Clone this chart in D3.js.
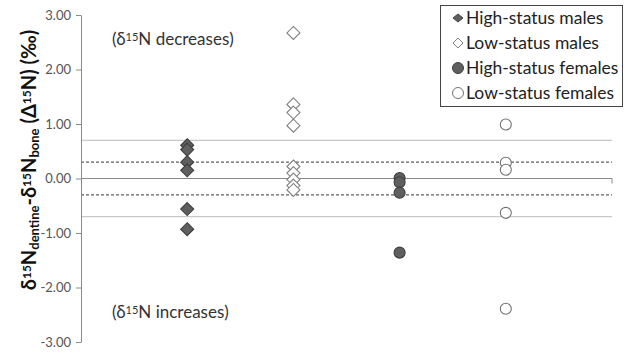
<!DOCTYPE html>
<html>
<head>
<meta charset="utf-8">
<script src="https://cdn.jsdelivr.net/npm/d3@7"></script>
<style>
  body { margin: 0; background: #fff; }
  text { font-family: Lato, "Open Sans", sans-serif; }
</style>
</head>
<body>
<div id="chart"></div>
<script>
// categories on the x axis (position 1..4)
const groups = ['High-status males', 'Low-status males', 'High-status females', 'Low-status females']
const highMales = [0.61, 0.53, 0.30, 0.15, -0.56, -0.93]
const lowMales = [2.67, 1.36, 1.21, 0.97, 0.22, 0.10, -0.02, -0.13, -0.21]
const highFemales = [0.01, -0.07, -0.26, -1.36]
const lowFemales = [0.99, 0.29, 0.16, -0.63, -2.39]
const yTicks = [3, 2, 1, 0, -1, -2, -3]
const bandLines = [0.7, -0.7]
const dashLines = [0.3, -0.3]

const series = [
  { name: groups[0], x: 1, values: highMales, shape: 'diamond', fill: '#5f5f5f', stroke: '#3f3f3f' },
  { name: groups[1], x: 2, values: lowMales, shape: 'diamond', fill: '#fff', stroke: '#808080' },
  { name: groups[2], x: 3, values: highFemales, shape: 'circle', fill: '#5f5f5f', stroke: '#3f3f3f' },
  { name: groups[3], x: 4, values: lowFemales, shape: 'circle', fill: '#fff', stroke: '#707070' }
]

const W = 629, H = 353
const svg = d3.select('#chart').append('svg')
  .attr('width', W).attr('height', H)

const xScale = d3.scaleLinear().domain([0, 5]).range([81, 612])
const yScale = d3.scaleLinear().domain([-3, 3]).range([342, 15])

const diamond = r => 'M0,' + (-r) + 'L' + r + ',0L0,' + r + 'L' + (-r) + ',0Z'

// reference lines
svg.selectAll('.band').data(bandLines).enter().append('line')
  .attr('x1', xScale(0)).attr('x2', xScale(5))
  .attr('y1', d => yScale(d)).attr('y2', d => yScale(d))
  .attr('stroke', '#c8c8c8').attr('stroke-width', 1.2)

svg.selectAll('.dash').data(dashLines).enter().append('line')
  .attr('x1', xScale(0)).attr('x2', xScale(5))
  .attr('y1', d => yScale(d)).attr('y2', d => yScale(d))
  .attr('stroke', '#606060').attr('stroke-width', 1.2)
  .attr('stroke-dasharray', '3,2')

// zero line (horizontal axis)
svg.append('line')
  .attr('x1', xScale(0)).attr('x2', xScale(5))
  .attr('y1', yScale(0)).attr('y2', yScale(0))
  .attr('stroke', '#8a8a8a').attr('stroke-width', 1.2)
svg.append('line')
  .attr('x1', xScale(5)).attr('x2', xScale(5))
  .attr('y1', yScale(0)).attr('y2', yScale(0) + 5)
  .attr('stroke', '#8a8a8a')

// y axis
const yAxis = d3.axisLeft(yScale).tickValues(yTicks)
  .tickFormat(d => d3.format('.2f')(d).replace('−', '-'))
  .tickSize(5).tickSizeOuter(0)
const gy = svg.append('g')
  .attr('transform', 'translate(' + xScale(0) + ',0)')
  .call(yAxis)
gy.select('.domain').attr('stroke', '#8a8a8a')
gy.selectAll('.tick line').attr('stroke', '#8a8a8a')
gy.selectAll('.tick text')
  .attr('x', -10)
  .attr('fill', '#555')
  .style('font-size', '13px')

// y axis title
const title = svg.append('text')
  .attr('transform', 'translate(36,160) rotate(-90)')
  .attr('text-anchor', 'middle')
  .attr('font-weight', 'bold')
  .attr('fill', '#111')
  .style('font-size', '20px')
title.append('tspan').text('δ')
title.append('tspan').text('15').attr('baseline-shift', '40%').style('font-size', '12px')
title.append('tspan').text('N')
title.append('tspan').text('dentine').attr('baseline-shift', '-20%').style('font-size', '13px')
title.append('tspan').text('-δ')
title.append('tspan').text('15').attr('baseline-shift', '40%').style('font-size', '12px')
title.append('tspan').text('N')
title.append('tspan').text('bone').attr('baseline-shift', '-20%').style('font-size', '13px')
title.append('tspan').text(' (Δ')
title.append('tspan').text('15').attr('baseline-shift', '40%').style('font-size', '12px')
title.append('tspan').text('N)  (‰)')

// annotations
const notes = [
  { y: 45, label: 'decreases' },
  { y: 318, label: 'increases' }
]
notes.forEach(n => {
  const t = svg.append('text')
    .attr('x', 112).attr('y', n.y)
    .attr('fill', '#333')
    .style('font-size', '17px')
  t.append('tspan').text('(δ')
  t.append('tspan').text('15').attr('baseline-shift', '40%').style('font-size', '11px')
  t.append('tspan').text('N ' + n.label + ')')
})

// points
series.forEach(s => {
  const g = svg.append('g')
  if (s.shape === 'diamond') {
    g.selectAll('path').data(s.values).enter().append('path')
      .attr('d', diamond(6.5))
      .attr('transform', d => 'translate(' + xScale(s.x) + ',' + yScale(d) + ')')
      .attr('fill', s.fill).attr('stroke', s.stroke).attr('stroke-width', 1.1)
  } else {
    g.selectAll('circle').data(s.values).enter().append('circle')
      .attr('cx', xScale(s.x)).attr('cy', d => yScale(d)).attr('r', 5.5)
      .attr('fill', s.fill).attr('stroke', s.stroke).attr('stroke-width', 1.1)
  }
})

// legend
const legend = svg.append('g')
legend.append('rect')
  .attr('x', 440.5).attr('y', 5.5).attr('width', 182).attr('height', 101)
  .attr('fill', '#fff').attr('stroke', '#444')
series.forEach((s, i) => {
  const cy = 18 + i * 25
  if (s.shape === 'diamond') {
    legend.append('path')
      .attr('d', i === 0 ? 'M0,-4L5,0L0,4L-5,0Z' : diamond(5))
      .attr('transform', 'translate(458,' + cy + ')')
      .attr('fill', s.fill).attr('stroke', s.stroke)
  } else {
    legend.append('circle')
      .attr('cx', 458).attr('cy', cy).attr('r', 5.5)
      .attr('fill', s.fill).attr('stroke', s.stroke)
  }
  legend.append('text')
    .attr('x', 466).attr('y', cy + 6)
    .attr('fill', '#222')
    .style('font-size', '17.5px')
    .text(s.name)
})
</script>
</body>
</html>
